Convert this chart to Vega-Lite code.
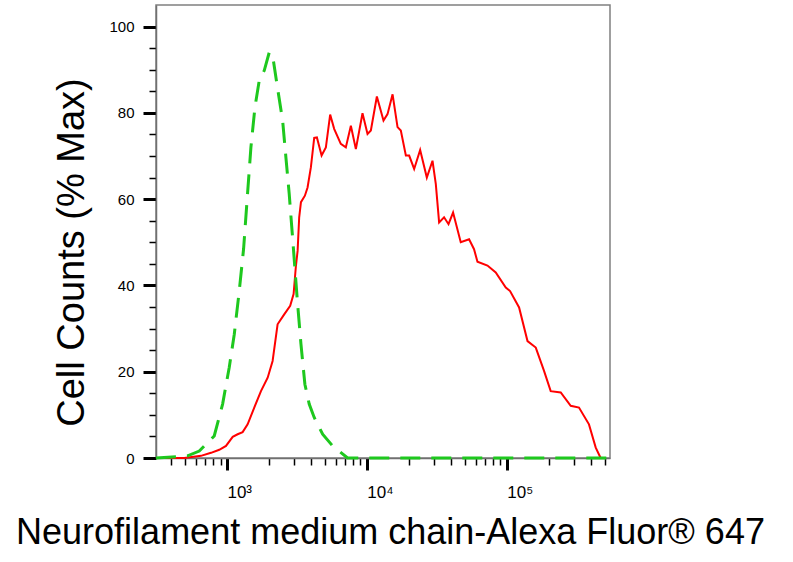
{
  "$schema": "https://vega.github.io/schema/vega-lite/v6.json",
  "width": 454,
  "height": 453,
  "autosize": {"type": "none"},
  "padding": {"left": 156, "top": 5, "right": 183, "bottom": 104},
  "config": {
    "font": "Liberation Sans",
    "view": {"stroke": "#808080", "strokeWidth": 1.5}
  },
  "datasets": {
    "hist": [
      {"series": "antibody", "intensity": 311, "counts": 0},
      {"series": "antibody", "intensity": 495, "counts": 0},
      {"series": "antibody", "intensity": 652, "counts": 0.5},
      {"series": "antibody", "intensity": 769, "counts": 1.2},
      {"series": "antibody", "intensity": 881, "counts": 1.9},
      {"series": "antibody", "intensity": 984, "counts": 2.8},
      {"series": "antibody", "intensity": 1099, "counts": 4.9},
      {"series": "antibody", "intensity": 1192, "counts": 5.5},
      {"series": "antibody", "intensity": 1294, "counts": 6.0},
      {"series": "antibody", "intensity": 1405, "counts": 7.8},
      {"series": "antibody", "intensity": 1567, "counts": 11.7},
      {"series": "antibody", "intensity": 1750, "counts": 15.5},
      {"series": "antibody", "intensity": 1954, "counts": 18.6},
      {"series": "antibody", "intensity": 2120, "counts": 22.5},
      {"series": "antibody", "intensity": 2301, "counts": 31},
      {"series": "antibody", "intensity": 2566, "counts": 33.3},
      {"series": "antibody", "intensity": 2831, "counts": 35.3},
      {"series": "antibody", "intensity": 2994, "counts": 38},
      {"series": "antibody", "intensity": 3110, "counts": 44.5},
      {"series": "antibody", "intensity": 3199, "counts": 48},
      {"series": "antibody", "intensity": 3283, "counts": 55.8},
      {"series": "antibody", "intensity": 3380, "counts": 59.3},
      {"series": "antibody", "intensity": 3606, "counts": 60.8},
      {"series": "antibody", "intensity": 3768, "counts": 62.7},
      {"series": "antibody", "intensity": 3981, "counts": 67.4},
      {"series": "antibody", "intensity": 4204, "counts": 74.2},
      {"series": "antibody", "intensity": 4394, "counts": 74.3},
      {"series": "antibody", "intensity": 4747, "counts": 70.1},
      {"series": "antibody", "intensity": 5093, "counts": 72},
      {"series": "antibody", "intensity": 5466, "counts": 79.6},
      {"series": "antibody", "intensity": 5838, "counts": 76.3},
      {"series": "antibody", "intensity": 6513, "counts": 72.8},
      {"series": "antibody", "intensity": 7075, "counts": 72},
      {"series": "antibody", "intensity": 7686, "counts": 77},
      {"series": "antibody", "intensity": 8344, "counts": 71.6},
      {"series": "antibody", "intensity": 9308, "counts": 79.9},
      {"series": "antibody", "intensity": 10110, "counts": 75.1},
      {"series": "antibody", "intensity": 10680, "counts": 75.9},
      {"series": "antibody", "intensity": 11790, "counts": 83.8},
      {"series": "antibody", "intensity": 13150, "counts": 78.2},
      {"series": "antibody", "intensity": 14050, "counts": 79.7},
      {"series": "antibody", "intensity": 15270, "counts": 84.3},
      {"series": "antibody", "intensity": 16570, "counts": 76.7},
      {"series": "antibody", "intensity": 17490, "counts": 75.9},
      {"series": "antibody", "intensity": 19000, "counts": 70.1},
      {"series": "antibody", "intensity": 20060, "counts": 70.1},
      {"series": "antibody", "intensity": 21780, "counts": 67},
      {"series": "antibody", "intensity": 24040, "counts": 71.4},
      {"series": "antibody", "intensity": 26830, "counts": 65},
      {"series": "antibody", "intensity": 29460, "counts": 68.9},
      {"series": "antibody", "intensity": 31110, "counts": 63.5},
      {"series": "antibody", "intensity": 32850, "counts": 54.6},
      {"series": "antibody", "intensity": 35640, "counts": 55.8},
      {"series": "antibody", "intensity": 38340, "counts": 54.2},
      {"series": "antibody", "intensity": 41330, "counts": 56.9},
      {"series": "antibody", "intensity": 46890, "counts": 50},
      {"series": "antibody", "intensity": 53790, "counts": 50.7},
      {"series": "antibody", "intensity": 58360, "counts": 48.4},
      {"series": "antibody", "intensity": 61740, "counts": 45.5},
      {"series": "antibody", "intensity": 72810, "counts": 44.6},
      {"series": "antibody", "intensity": 83420, "counts": 43},
      {"series": "antibody", "intensity": 98400, "counts": 39.5},
      {"series": "antibody", "intensity": 105600, "counts": 38.7},
      {"series": "antibody", "intensity": 122500, "counts": 34.9},
      {"series": "antibody", "intensity": 140700, "counts": 27.1},
      {"series": "antibody", "intensity": 161200, "counts": 25.6},
      {"series": "antibody", "intensity": 184700, "counts": 20.2},
      {"series": "antibody", "intensity": 206100, "counts": 15.5},
      {"series": "antibody", "intensity": 243100, "counts": 15.2},
      {"series": "antibody", "intensity": 286500, "counts": 12.1},
      {"series": "antibody", "intensity": 328300, "counts": 11.7},
      {"series": "antibody", "intensity": 387000, "counts": 7.8},
      {"series": "antibody", "intensity": 432500, "counts": 2.4},
      {"series": "antibody", "intensity": 469000, "counts": 0},
      {"series": "control", "intensity": 311, "counts": 0},
      {"series": "control", "intensity": 523, "counts": 0.5},
      {"series": "control", "intensity": 634, "counts": 1.6},
      {"series": "control", "intensity": 811, "counts": 5.1},
      {"series": "control", "intensity": 931, "counts": 12.5},
      {"series": "control", "intensity": 1038, "counts": 21},
      {"series": "control", "intensity": 1128, "counts": 28.7},
      {"series": "control", "intensity": 1224, "counts": 38.7},
      {"series": "control", "intensity": 1315, "counts": 48.5},
      {"series": "control", "intensity": 1405, "counts": 61.5},
      {"series": "control", "intensity": 1483, "counts": 72},
      {"series": "control", "intensity": 1585, "counts": 81.3},
      {"series": "control", "intensity": 1701, "counts": 87.5},
      {"series": "control", "intensity": 1847, "counts": 89.8},
      {"series": "control", "intensity": 2005, "counts": 94},
      {"series": "control", "intensity": 2120, "counts": 93.3},
      {"series": "control", "intensity": 2275, "counts": 86.7},
      {"series": "control", "intensity": 2500, "counts": 78.2},
      {"series": "control", "intensity": 2638, "counts": 69.7},
      {"series": "control", "intensity": 2786, "counts": 61.2},
      {"series": "control", "intensity": 2994, "counts": 48},
      {"series": "control", "intensity": 3199, "counts": 35.7},
      {"series": "control", "intensity": 3380, "counts": 26.4},
      {"series": "control", "intensity": 3606, "counts": 17.1},
      {"series": "control", "intensity": 3872, "counts": 12.5},
      {"series": "control", "intensity": 4204, "counts": 9.4},
      {"series": "control", "intensity": 4830, "counts": 5.5},
      {"series": "control", "intensity": 5690, "counts": 2.8},
      {"series": "control", "intensity": 7280, "counts": 0},
      {"series": "control", "intensity": 547000, "counts": 0}
    ]
  },
  "data": {"name": "hist"},
  "encoding": {
    "x": {
      "field": "intensity",
      "type": "quantitative",
      "scale": {"type": "log", "domain": [311, 547000], "nice": false},
      "axis": {
        "title": "Neurofilament medium chain-Alexa Fluor® 647",
        "titleFont": "Liberation Sans",
        "titleFontSize": 36,
        "titleFontWeight": "normal",
        "titleColor": "black",
        "titleAlign": "center",
        "titleBaseline": "alphabetic",
        "titleX": 234,
        "titleY": 85,
        "values": [400, 500, 600, 700, 800, 900, 1000, 2000, 3000, 4000, 5000, 6000, 7000, 8000, 9000, 10000, 20000, 30000, 40000, 50000, 60000, 70000, 80000, 90000, 100000, 200000, 300000, 400000, 500000],
        "labelExpr": "datum.value == 1000 ? '10³' : datum.value == 10000 ? '10⁴' : datum.value == 100000 ? '10⁵' : ''",
        "labelOverlap": false,
        "labelFlush": false,
        "labelAlign": "left",
        "labelBaseline": "alphabetic",
        "labelPadding": 27,
        "labelFontSize": 17,
        "labelColor": "black",
        "domainColor": "#707070",
        "domainWidth": 1.5,
        "tickColor": "black",
        "tickSize": {"condition": {"test": "datum.value == 1000 || datum.value == 10000 || datum.value == 100000", "value": 12}, "value": 7},
        "tickWidth": {"condition": {"test": "datum.value == 1000 || datum.value == 10000 || datum.value == 100000", "value": 3}, "value": 1.5},
        "grid": false
      }
    },
    "y": {
      "field": "counts",
      "type": "quantitative",
      "scale": {"domain": [0, 105], "nice": false},
      "axis": {
        "title": "Cell Counts (% Max)",
        "titleFont": "Liberation Sans",
        "titleFontSize": 38,
        "titleFontWeight": "normal",
        "titleColor": "black",
        "titleAngle": 270,
        "titleAlign": "center",
        "titleBaseline": "alphabetic",
        "titleX": -73,
        "titleY": 247,
        "values": [0, 5, 10, 15, 20, 25, 30, 35, 40, 45, 50, 55, 60, 65, 70, 75, 80, 85, 90, 95, 100],
        "labelExpr": "datum.value % 20 == 0 ? datum.value : ''",
        "labelOverlap": false,
        "labelFlush": false,
        "labelPadding": 9,
        "labelFontSize": 15,
        "labelColor": "black",
        "domainColor": "#707070",
        "domainWidth": 1.5,
        "tickColor": "black",
        "tickSize": {"condition": {"test": "datum.value % 20 == 0", "value": 13}, "value": 7},
        "tickWidth": {"condition": {"test": "datum.value % 20 == 0", "value": 3}, "value": 1.5},
        "grid": false
      }
    }
  },
  "layer": [
    {
      "transform": [{"filter": "datum.series == 'antibody'"}],
      "mark": {"type": "line", "color": "#ff0000", "strokeWidth": 2}
    },
    {
      "transform": [{"filter": "datum.series == 'control'"}],
      "mark": {"type": "line", "color": "#1ec81e", "strokeWidth": 3, "strokeDash": [20, 11]}
    }
  ]
}
